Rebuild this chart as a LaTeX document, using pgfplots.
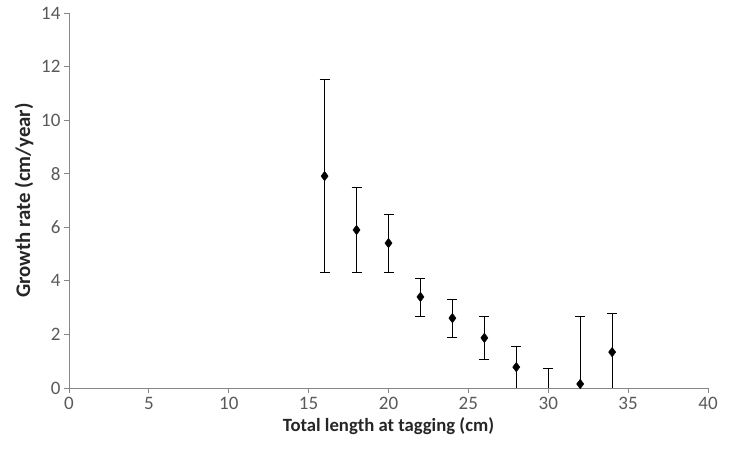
\documentclass[border=0pt]{standalone}
\usepackage{pgfplots}
\pgfplotsset{compat=1.18}
\usepackage{fontspec}
\setmainfont{Carlito}
\definecolor{axgray}{HTML}{868686}
\definecolor{txtgray}{HTML}{595959}
\begin{document}
\begin{tikzpicture}
\begin{axis}[
  name=ax,
  scale only axis,
  width=639bp, height=375bp,
  xmin=0, xmax=40, ymin=0, ymax=14,
  xtick={0,5,...,40}, ytick={0,2,...,14},
  axis x line=bottom, axis y line=left,
  axis line style={-, draw=axgray, line width=0.8bp},
  tick style={draw=axgray, line width=0.8bp},
  tick align=outside, major tick length=5bp,
  tick label style={font=\fontsize{19bp}{22bp}\selectfont, text=txtgray},
  xticklabel style={yshift=-1bp},
  /pgf/number format/assume math mode=true,
  xlabel={\textbf{Total length at tagging (cm)}},
  ylabel={\textbf{Growth rate (cm/year)}},
  label style={text=black!85},
  xlabel style={font=\fontsize{18.7bp}{22bp}\selectfont, anchor=north, at={(axis description cs:0.5,0)}, yshift=-26bp},
  ylabel style={font=\fontsize{20.8bp}{24bp}\selectfont, anchor=south, at={(axis description cs:0,0.5)}, xshift=0bp, yshift=32bp},
  clip=true,
]
\addplot[only marks, mark=diamond*, mark size=4.8bp, black,
  error bars/.cd, y dir=both, y explicit,
  error bar style={black, line width=0.8bp},
  error mark options={rotate=90, mark size=5bp, black, line width=0.8bp}]
  table[x=x, y=y, y error plus=ep, y error minus=em] {
x   y     ep    em
16  7.91  3.62  3.58
18  5.90  1.60  1.57
20  5.41  1.08  1.08
22  3.40  0.70  0.71
24  2.61  0.71  0.71
26  1.87  0.82  0.79
28  0.78  0.79  0.79
30  -0.60 1.35  1.35
32  0.15  2.51  2.51
34  1.34  1.43  1.43
};
\end{axis}
\pgfresetboundingbox
\path ([shift={(-69bp,-61bp)}]ax.south west) rectangle ([shift={(24bp,13bp)}]ax.north east);
\end{tikzpicture}
\end{document}
